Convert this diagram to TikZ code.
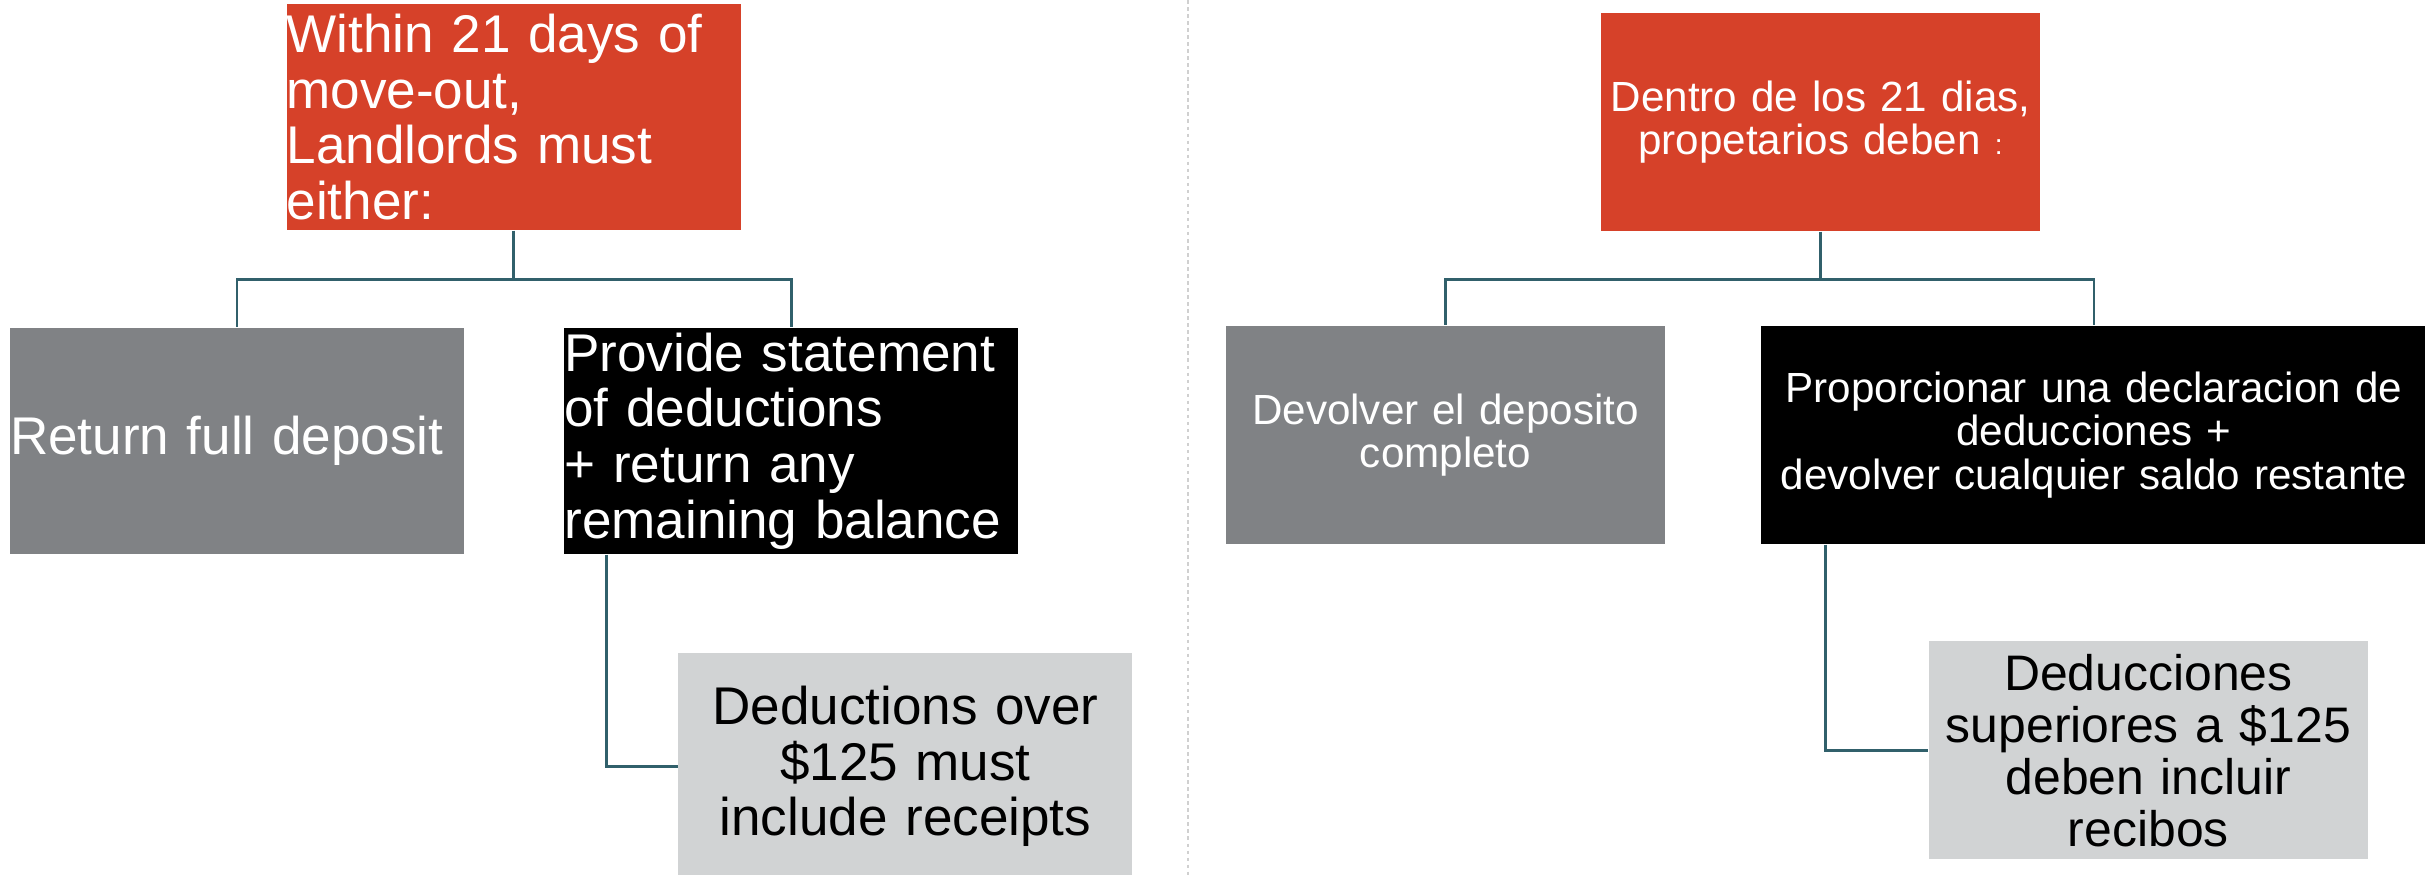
\documentclass[tikz,border=0pt]{standalone}
\usepackage{fontspec}
\setmainfont{Liberation Sans}
\usetikzlibrary{positioning}

\definecolor{alertred}{HTML}{D64129}
\definecolor{midgray}{HTML}{808285}
\definecolor{palegray}{HTML}{D1D3D4}
\definecolor{linkteal}{HTML}{31606B}
\definecolor{rulegray}{HTML}{D0D0D0}

\begin{document}
\begin{tikzpicture}[node distance=9.7mm,
  box/.style={inner sep=0pt, text=white},
  en/.style={box, text width=45.4mm, minimum height=22.6mm, align=left, font=\fontsize{15.1}{15.8}\selectfont},
  es/.style={box, text width=43.9mm, minimum height=21.8mm, align=center, font=\fontsize{12}{12.4}\selectfont},
  link/.style={draw=linkteal, line width=0.7pt}]
  \useasboundingbox (0,0) rectangle (24.25,-8.75);
  % dotted rule between the two halves
  \draw[rulegray, line width=0.6pt, dash pattern=on 1pt off 1pt] (11.88,0) -- (11.88,-8.75);

  % english tree
  \node[en, fill=alertred] (lhead) at (5.135,-1.17) {Within 21 days of\\move-out,\\Landlords must\\either:};
  \node[en, fill=midgray] (lfull) at (2.37,-4.41) {Return full deposit};
  \node[en, fill=black, right=9.9mm of lfull] (lstmt) {Provide statement\\of deductions\\+ return any\\remaining balance};
  \node[en, fill=palegray, text=black, align=center, below=9.8mm of lstmt, xshift=11.4mm] (lrcpt) {Deductions over\\\$125 must\\include receipts};
  \draw[link] (lhead.south) -- ++(0,-4.9mm) coordinate (lfork) -| (lfull.north);
  \draw[link] (lfork) -| (lstmt.north);
  \draw[link] ([xshift=4.3mm]lstmt.south west) |- (lrcpt.west);

  % spanish tree
  \node[es, fill=alertred] (rhead) at (18.205,-1.22) {Dentro de los 21 dias,\\propetarios deben {\fontsize{8}{9}\selectfont:}};
  \node[es, fill=midgray] (rfull) at (14.455,-4.35) {Devolver el deposito\\completo};
  \node[es, fill=black, text width=66.5mm, right=9.5mm of rfull] (rstmt) {Proporcionar una declaracion de\\deducciones +\\devolver cualquier saldo restante};
  \node[es, fill=palegray, text=black, font=\fontsize{14.2}{14.8}\selectfont, below=9.6mm of rstmt, xshift=5.45mm] (rrcpt) {Deducciones\\superiores a \$125\\deben incluir\\recibos};
  \draw[link] (rhead.south) -- ++(0,-4.8mm) coordinate (rfork) -| (rfull.north);
  \draw[link] (rfork) -| (rstmt.north);
  \draw[link] ([xshift=6.5mm]rstmt.south west) |- (rrcpt.west);
\end{tikzpicture}
\end{document}
